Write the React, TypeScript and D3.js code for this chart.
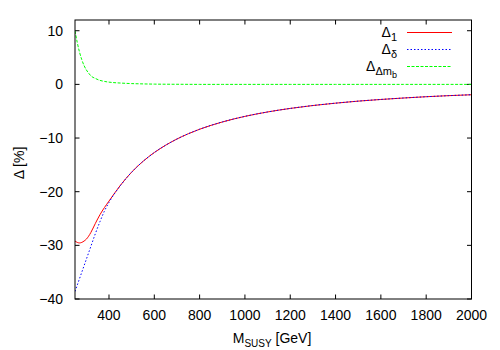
import React from "react";
import * as d3 from "d3";

// M_SUSY grid [GeV] and the three curves in percent
const mSusy = [250, 260, 270, 280, 290, 300, 310, 320, 340, 360, 380, 400, 450, 500, 550, 600, 650, 700, 750, 800, 900, 1000, 1100, 1200, 1300, 1400, 1500, 1600, 1700, 1800, 1900, 2000];
const delta1 = [-29.2, -29.45, -29.55, -29.45, -29.2, -28.85, -28.3, -27.6, -25.9, -24.3, -22.95, -21.75, -18.83, -16.35, -14.35, -12.7, -11.34, -10.18, -9.2, -8.36, -7.01, -5.96, -5.14, -4.48, -3.94, -3.5, -3.12, -2.81, -2.54, -2.3, -2.1, -1.93];
const deltaDelta = [-38.6, -37.4, -36.2, -35.0, -33.8, -32.6, -31.4, -30.2, -27.8, -25.6, -23.6, -22.0, -18.88, -16.37, -14.36, -12.71, -11.34, -10.18, -9.2, -8.36, -7.01, -5.96, -5.14, -4.48, -3.94, -3.5, -3.12, -2.81, -2.54, -2.3, -2.1, -1.93];
const deltaDmb = [10.0, 7.8, 6.0, 4.6, 3.5, 2.7, 2.1, 1.6, 1.1, 0.75, 0.55, 0.42, 0.25, 0.15, 0.09, 0.05, 0.03, 0.02, 0.01, 0, 0, 0, 0, 0, 0, 0, 0, 0, 0, 0, 0, 0];

const xTicks = [400, 600, 800, 1000, 1200, 1400, 1600, 1800, 2000];
const yTicks = [-40, -30, -20, -10, 0, 10];

const W = 500;
const H = 350;
const left = 75;
const right = 471.5;
const top = 20;
const bottom = 299;
const font = "'Liberation Sans', Arial, Helvetica, sans-serif";

const App = () => {
  const x = d3.scaleLinear().domain([250, 2000]).range([left, right]);
  const y = d3.scaleLinear().domain([-40, 12]).range([bottom, top]);

  const line = (vals: number[]) =>
    d3
      .line<number>()
      .x((_, i) => x(mSusy[i]))
      .y((d) => y(d))
      .curve(d3.curveMonotoneX)(vals) as string;

  const series = [
    { vals: delta1, color: "#ff0000", dash: undefined },
    { vals: deltaDelta, color: "#0000ff", dash: "1.5,2" },
    { vals: deltaDmb, color: "#00ff00", dash: "3,1.5" },
  ];

  const legendX1 = 407;
  const legendX2 = 452;
  const legendY = [32.5, 49.5, 66.5];
  const fmt = (v: number) => (v < 0 ? "\u2212" + Math.abs(v) : String(v));

  return (
    <svg
      width={W}
      height={H}
      style={{ position: "absolute", left: 0, top: 0, background: "#fff" }}
      fontFamily={font}
    >
      <defs>
        <clipPath id="plot">
          <rect x={left} y={top} width={right - left} height={bottom - top} />
        </clipPath>
      </defs>

      {/* ticks */}
      {xTicks.map((t) => (
        <g key={"x" + t} stroke="#000" strokeWidth={1}>
          <line x1={x(t)} x2={x(t)} y1={bottom} y2={bottom - 4.5} />
          <line x1={x(t)} x2={x(t)} y1={top} y2={top + 4.5} />
        </g>
      ))}
      {yTicks.map((t) => (
        <g key={"y" + t} stroke="#000" strokeWidth={1}>
          <line x1={left} x2={left + 4.5} y1={y(t)} y2={y(t)} />
          <line x1={right} x2={right - 4.5} y1={y(t)} y2={y(t)} />
        </g>
      ))}

      {/* curves */}
      <g clipPath="url(#plot)" fill="none">
        {series.map((s, i) => (
          <path key={i} d={line(s.vals)} stroke={s.color} strokeWidth={1} strokeDasharray={s.dash} />
        ))}
      </g>

      {/* border */}
      <rect x={left} y={top} width={right - left} height={bottom - top} fill="none" stroke="#000" strokeWidth={1} />

      {/* tick labels */}
      {xTicks.map((t) => (
        <text key={"xl" + t} x={x(t)} y={320} fontSize={14} textAnchor="middle">
          {t}
        </text>
      ))}
      {yTicks.map((t) => (
        <text key={"yl" + t} x={63} y={y(t) + 5} fontSize={14} textAnchor="end">
          {fmt(t)}
        </text>
      ))}

      {/* axis titles */}
      <text x={272} y={343} fontSize={14} textAnchor="middle">
        M<tspan fontSize={10} dy={4}>SUSY</tspan>
        <tspan dy={-4}> [GeV]</tspan>
      </text>
      <text transform="translate(24,163) rotate(-90)" fontSize={14} textAnchor="middle">
        {"\u0394 [%]"}
      </text>

      {/* legend */}
      <text x={397} y={legendY[0] + 4} fontSize={14} textAnchor="end">
        {"\u0394"}
        <tspan fontSize={11} dy={4}>1</tspan>
      </text>
      <text x={397} y={legendY[1] + 4} fontSize={14} textAnchor="end">
        {"\u0394"}
        <tspan fontSize={11} dy={4}>{"\u03b4"}</tspan>
      </text>
      <text x={397} y={legendY[2] + 4} fontSize={14} textAnchor="end">
        {"\u0394"}
        <tspan fontSize={11} dy={4}>{"\u0394m"}</tspan>
        <tspan fontSize={9} dy={3}>b</tspan>
      </text>
      {series.map((s, i) => (
        <line
          key={"lg" + i}
          x1={legendX1}
          x2={legendX2}
          y1={legendY[i]}
          y2={legendY[i]}
          stroke={s.color}
          strokeWidth={1}
          strokeDasharray={s.dash}
        />
      ))}
    </svg>
  );
};

export default App;
